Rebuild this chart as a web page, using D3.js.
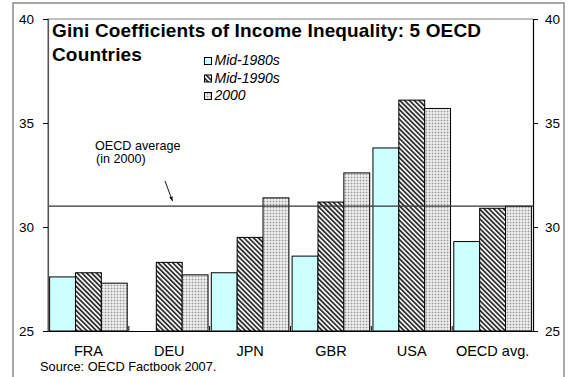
<!DOCTYPE html>
<html>
<head>
<meta charset="utf-8">
<script src="https://cdn.jsdelivr.net/npm/d3@7/dist/d3.min.js"></script>
<style>
  html, body { margin: 0; padding: 0; background: #fff; }
  svg { display: block; font-family: "Liberation Sans", Arial, sans-serif; }
</style>
</head>
<body>
<svg id="chart" width="569" height="377"></svg>
<script>
// Gini coefficients (x100) by country and period
const categories = ["FRA", "DEU", "JPN", "GBR", "USA", "OECD avg."];
const seriesNames = ["Mid-1980s", "Mid-1990s", "2000"];
const mid1980s = [27.6, null, 27.8, 28.6, 33.8, 29.3];
const mid1990s = [27.8, 28.3, 29.5, 31.2, 36.1, 30.9];
const year2000 = [27.3, 27.7, 31.4, 32.6, 35.7, 31.0];
const yTicks = [25, 30, 35, 40];
const oecdAverage2000 = year2000[5];

const svg = d3.select("#chart");
const plotLeft = 48, plotRight = 533, plotTop = 19, plotBottom = 331;

const x = d3.scaleBand().domain(categories).range([plotLeft, plotRight])
  .paddingInner(0.04).paddingOuter(0.02);
const xs = d3.scaleBand().domain(seriesNames).range([0, x.bandwidth()]);
const y = d3.scaleLinear().domain([25, 40]).range([plotBottom, plotTop]);

// fill patterns
const defs = svg.append("defs");
const hatch = defs.append("pattern").attr("id", "hatch")
  .attr("patternUnits", "userSpaceOnUse").attr("width", 3.4).attr("height", 3.4)
  .attr("patternTransform", "rotate(-45)");
hatch.append("rect").attr("width", 3.4).attr("height", 3.4).attr("fill", "#fff");
hatch.append("rect").attr("width", 1.8).attr("height", 3.4).attr("fill", "#303030");

const dots = defs.append("pattern").attr("id", "dots")
  .attr("patternUnits", "userSpaceOnUse").attr("width", 3).attr("height", 3);
dots.append("rect").attr("width", 3).attr("height", 3).attr("fill", "#ececec");
dots.append("rect").attr("x", 0).attr("y", 0).attr("width", 3).attr("height", 1).attr("fill", "#d2d2d2");
dots.append("rect").attr("x", 0).attr("y", 0).attr("width", 1).attr("height", 3).attr("fill", "#d2d2d2");
dots.append("rect").attr("x", 0).attr("y", 0).attr("width", 1).attr("height", 1).attr("fill", "#9c9c9c");

const fills = ["#ccffff", "url(#hatch)", "url(#dots)"];
const series = [mid1980s, mid1990s, year2000];

// outer frame
svg.append("path")
  .attr("d", `M13,377 V3 H564 V377`)
  .attr("fill", "none").attr("stroke", "#8c8c8c").attr("stroke-width", 1.5);

// plot frame (top and left)
svg.append("path")
  .attr("d", `M${plotLeft},${plotBottom} V${plotTop} H${plotRight}`)
  .attr("fill", "none").attr("stroke", "#808080").attr("stroke-width", 1.2);

// bars
series.forEach((vals, si) => {
  svg.append("g").selectAll("rect")
    .data(categories.map((c, i) => ({ c, v: vals[i] })).filter(d => d.v != null))
    .join("rect")
    .attr("x", d => x(d.c) + xs(seriesNames[si]))
    .attr("y", d => y(d.v))
    .attr("width", xs.bandwidth())
    .attr("height", d => plotBottom - y(d.v))
    .attr("fill", fills[si])
    .attr("stroke", "#000").attr("stroke-width", 1);
});

// OECD average line
svg.append("line")
  .attr("x1", plotLeft).attr("x2", plotRight)
  .attr("y1", y(oecdAverage2000)).attr("y2", y(oecdAverage2000))
  .attr("stroke", "#333").attr("stroke-width", 1.2);

// left axis
const yLeft = svg.append("g").attr("transform", `translate(${plotLeft},0)`)
  .call(d3.axisLeft(y).tickValues(yTicks).tickSize(5).tickPadding(9));
// right axis
const yRight = svg.append("g").attr("transform", `translate(${plotRight},0)`)
  .call(d3.axisRight(y).tickValues(yTicks).tickSize(5).tickPadding(7));
[yLeft, yRight].forEach(g => {
  g.select(".domain").attr("stroke", "#000").attr("stroke-width", 1.2);
  g.selectAll(".tick line").attr("stroke", "#000");
  g.selectAll("text").attr("font-size", 13.5).attr("fill", "#000")
    .attr("font-family", "Liberation Sans, Arial, sans-serif");
});
yLeft.select(".domain").attr("stroke", "#555");

// category axis
const xAxis = svg.append("g").attr("transform", `translate(0,${plotBottom})`)
  .call(d3.axisBottom(x).tickSize(0).tickPadding(14.5));
xAxis.select(".domain").attr("stroke", "#000").attr("stroke-width", 1.2);
xAxis.selectAll("text").attr("font-size", 14.5).attr("fill", "#000")
  .attr("font-family", "Liberation Sans, Arial, sans-serif");

// dividers between category groups
const step = x.step();
svg.append("g").selectAll("line")
  .data(categories.slice(1))
  .join("line")
  .attr("x1", d => x(d) - (step - x.bandwidth()) / 2)
  .attr("x2", d => x(d) - (step - x.bandwidth()) / 2)
  .attr("y1", plotBottom).attr("y2", plotBottom - 5)
  .attr("stroke", "#000");

// title
const title = svg.append("text")
  .attr("font-size", 19).attr("font-weight", "bold").attr("fill", "#000")
  .attr("letter-spacing", 0.15);
title.append("tspan").attr("x", 52).attr("y", 37).text("Gini Coefficients of Income Inequality: 5 OECD");
title.append("tspan").attr("x", 52).attr("y", 61).text("Countries");

// legend
const legend = svg.append("g");
seriesNames.forEach((name, i) => {
  const by = 65 + i * 17.5;
  legend.append("rect").attr("x", 204.5).attr("y", by - 7.5)
    .attr("width", 7).attr("height", 7)
    .attr("fill", fills[i]).attr("stroke", "#000").attr("stroke-width", 1);
  legend.append("text").attr("x", 214.5).attr("y", by)
    .attr("font-size", 14).attr("font-style", "italic").attr("fill", "#000")
    .text(name);
});

// annotation
svg.append("text").attr("x", 95).attr("y", 150).attr("font-size", 12.6)
  .attr("fill", "#000").text("OECD average");
svg.append("text").attr("x", 96).attr("y", 162.5).attr("font-size", 12.6)
  .attr("fill", "#000").text("(in 2000)");
defs.append("marker").attr("id", "arrow").attr("viewBox", "0 0 10 10")
  .attr("refX", 10).attr("refY", 5).attr("markerWidth", 5).attr("markerHeight", 5)
  .attr("orient", "auto")
  .append("path").attr("d", "M0,1 L10,5 L0,9 Z").attr("fill", "#000");
svg.append("line").attr("x1", 165).attr("y1", 181).attr("x2", 172.5).attr("y2", 201)
  .attr("stroke", "#000").attr("stroke-width", 0.9).attr("marker-end", "url(#arrow)");

// source note
svg.append("text").attr("x", 40).attr("y", 370.5).attr("font-size", 12.8)
  .attr("fill", "#000").text("Source: OECD Factbook 2007.");
</script>
</body>
</html>
